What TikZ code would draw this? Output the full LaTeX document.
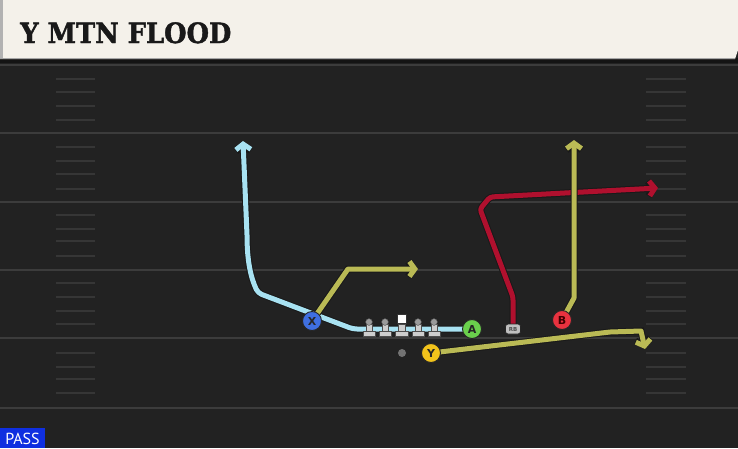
\documentclass[tikz,border=0pt]{standalone}
\usepackage{fontspec}
\setmainfont{DejaVu Sans}
\newfontfamily\titlefont[BoldFeatures={FakeBold=1.6}]{DejaVu Serif}
\newfontfamily\passfont{PT Sans}
\usetikzlibrary{arrows.meta}
\definecolor{fieldbg}{HTML}{222222}
\definecolor{yardline}{HTML}{3C3C3C}
\definecolor{hashc}{HTML}{363636}
\definecolor{headerbg}{HTML}{F4F1EA}
\definecolor{routeblue}{HTML}{A8E2F2}
\definecolor{routeolive}{HTML}{BABA55}
\definecolor{routered}{HTML}{B0102E}
\definecolor{xblue}{HTML}{3F6FE0}
\definecolor{agreen}{HTML}{6AD04C}
\definecolor{yyellow}{HTML}{F2C31B}
\definecolor{bred}{HTML}{E8323F}
\definecolor{passblue}{HTML}{0F2FE0}
\definecolor{olgray}{HTML}{CDCDCD}
\definecolor{olhead}{HTML}{9A9A9A}
\pgfdeclarelayer{bg}
\pgfdeclarelayer{routes}
\pgfsetlayers{bg,routes,main}
\tikzset{
  player/.style={circle, draw=black!85, line width=0.9pt, minimum size=19pt, inner sep=0pt,
    font=\bfseries\fontsize{11}{11}\selectfont, text=black!85},
  route/.style={line width=5pt, draw=#1, line join=round,
    preaction={draw=black!90, line width=7pt}},
  tip/.style={-{Straight Barb[length=5.5pt,width=15pt]}},
  yard/.style={draw=yardline, line width=2pt},
  hashmark/.style={draw=hashc, line width=1.3pt}
}
\begin{document}
\begin{tikzpicture}[x=1pt,y=-1pt]
\useasboundingbox (0,0) rectangle (738,448);
\begin{pgfonlayer}{bg}
  % field
  \fill[fieldbg] (0,0) rectangle (738,448);
  \fill[black!92] (0,58) rectangle (738,63);
  % header
  \fill[headerbg] (0,0) -- (738,0) -- (738,50) -- (735,59) -- (0,59) -- cycle;
  \fill[black!30] (0,0) rectangle (2.5,59);
  \draw[black!35, line width=0.8pt] (0,58.6) -- (735,58.6);
  % yard lines
  \foreach \yy in {65,133,202,270,338,408}
    \draw[yard] (0,\yy) -- (738,\yy);
  % hash marks
  \foreach \yy in {79,92,106,120,147,161,174,189,215,229,241,256,283,297,311,324,353,367,379,393}{
    \draw[hashmark] (56,\yy) -- (95,\yy);
    \draw[hashmark] (646,\yy) -- (686,\yy);
  }
\end{pgfonlayer}

% title
\node[anchor=base west, inner sep=0pt, text=black!90] (title) at (20,43)
  {\scalebox{0.92}[1]{\titlefont\bfseries\fontsize{28}{28}\selectfont Y MTN FLOOD}};

% offensive line
\foreach \xx in {369,385,418,434}{
  \fill[olgray, draw=black!70, line width=0.4pt] (\xx-3,324.5) rectangle (\xx+3,332);
  \fill[olgray, draw=black!70, line width=0.4pt] (\xx-6,331.5) rectangle (\xx+6,336);
  \fill[olhead, draw=black!70, line width=0.4pt] (\xx,322) circle (3.4);
}
\fill[olgray, draw=black!70, line width=0.4pt] (398.5,324.5) rectangle (405.5,332);
\fill[olgray, draw=black!70, line width=0.4pt] (395.5,331.5) rectangle (408.5,336);
\node[draw=black!80, fill=white, line width=0.6pt, minimum size=9pt, inner sep=0pt] (C) at (401.5,318.5) {};

% ball
\node[circle, fill=black!55, minimum size=8pt, inner sep=0pt] (ball) at (402,353) {};

% players
\node[player, fill=xblue] (X) at (312,321) {X};
\node[player, fill=agreen] (A) at (472,329) {A};
\node[player, fill=yyellow] (Y) at (431,353) {Y};
\node[player, fill=bred, text=black!75!red] (B) at (562,320) {B};
\node[draw=black!85, fill=black!25, rounded corners=2.5pt, line width=0.8pt, minimum width=15pt,
  minimum height=10pt, inner sep=0pt, text=black!70, font=\bfseries\fontsize{5.5}{5.5}\selectfont] (RB) at (513,329) {RB};

% route bend points
\coordinate (a1) at (353,329);
\coordinate (a2) at (258,293);
\coordinate (a3) at (247,235);
\coordinate (a4) at (243,141);
\coordinate (x1) at (348,269);
\coordinate (x2) at (418,269);
\coordinate (r1) at (513,297);
\coordinate (r2) at (480,209);
\coordinate (r3) at (490,197);
\coordinate (r4) at (658,188);
\coordinate (b1) at (574,298);
\coordinate (b2) at (574,140);
\coordinate (y1) at (610,332);
\coordinate (y2) at (641,331);
\coordinate (y3) at (645,349);

\begin{pgfonlayer}{routes}
  \draw[route=routeblue, tip, rounded corners=4pt] (A.center) -- (a1) -- (a2)
    [rounded corners=0pt] .. controls (251,278) and (247,262) .. (a3) -- (a4);
  \draw[route=routeolive, tip] (X.center) -- (x1) -- (x2);
  \draw[route=routered, tip, rounded corners=3pt] (RB.center) -- (r1) -- (r2) -- (r3) -- (r4);
  \draw[route=routeolive, tip] (B.center) -- (b1) -- (b2);
  \draw[route=routeolive, tip] (Y.center) -- (y1) -- (y2) -- (y3);
\end{pgfonlayer}

% pass tag
\fill[passblue] (0,428) rectangle (45,448);
\node[anchor=base, inner sep=0pt, text=white] (pass) at (22.5,444.5)
  {\passfont\fontsize{16}{16}\selectfont PASS};
\end{tikzpicture}
\end{document}
